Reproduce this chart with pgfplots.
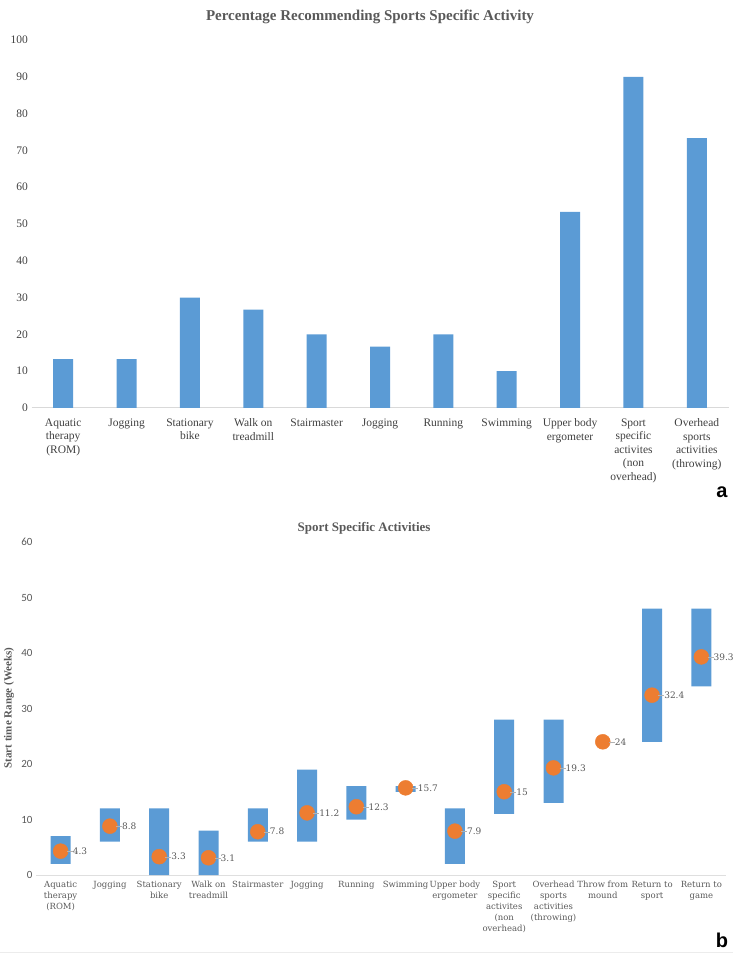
\documentclass[border=0pt]{standalone}
\usepackage{pgfplots}
\pgfplotsset{compat=1.18}
\usepackage{pgfplotstable}
\usepackage{fontspec}
\setmainfont{Liberation Serif}
\newfontfamily\wideserif{DejaVu Serif}
\newfontfamily\calib{Carlito}
\newfontfamily\arial{Liberation Sans}
\definecolor{barblue}{HTML}{5B9BD5}
\definecolor{dotorange}{HTML}{ED7D31}
\definecolor{txt}{HTML}{404040}
\definecolor{ttl}{HTML}{595959}

% panel a: percentage recommending each activity
\pgfplotstableread{
x pct
0 13.3
1 13.3
2 30
3 26.7
4 20
5 16.7
6 20
7 10
8 53.3
9 90
10 73.3
}\pctdata

% panel b: start time range (weeks), low / high / mean
\pgfplotstableread{
x low high mean
0 2 7 4.3
1 6 12 8.8
2 0 12 3.3
3 0 8 3.1
4 6 12 7.8
5 6 19 11.2
6 10 16 12.3
7 15 16 15.7
8 2 12 7.9
9 11 28 15
10 13 28 19.3
11 24 24 24
12 24 48 32.4
13 34 48 39.3
}\startdata

\begin{document}
\begin{tikzpicture}
\path[use as bounding box] (0pt,0pt) rectangle (735pt,956pt);

% ---------- panel a ----------
\node[font=\bfseries\fontsize{15}{18}\selectfont, text=ttl] at (370pt,939pt)
  {Percentage Recommending Sports Specific Activity};
\begin{axis}[
  at={(31.5pt,548pt)}, anchor=south west,
  scale only axis, width=697pt, height=368pt,
  xmin=-0.5, xmax=10.5, ymin=0, ymax=100,
  axis lines*=left,
  y axis line style={draw=none},
  x axis line style={gray!30, line width=1pt},
  tick style={draw=none},
  ytick={0,10,...,100},
  /pgf/number format/assume math mode=true,
  yticklabel style={font=\fontsize{11.5}{13}\selectfont, text=txt},
  xtick={0,...,10},
  xticklabels={{Aquatic\\therapy\\(ROM)}, Jogging, {Stationary\\bike},
    {Walk on\\treadmill}, Stairmaster, Jogging, Running, Swimming,
    {Upper body\\ergometer}, {Sport\\specific\\activites\\(non\\overhead)},
    {Overhead\\sports\\activities\\(throwing)}},
  xticklabel style={font=\fontsize{11.5}{13.5}\selectfont, text=txt, align=center, yshift=-3pt},
  ybar, bar width=20pt,
]
\addplot[fill=barblue, draw=none] table[x=x, y=pct] {\pctdata};
\end{axis}
\node[font=\arial\bfseries\fontsize{20}{22}\selectfont] at (722pt,464pt) {a};

% ---------- panel b ----------
\node[font=\bfseries\fontsize{13}{16}\selectfont, text=ttl] at (364pt,428pt)
  {Sport Specific Activities};
\node[rotate=90, font=\bfseries\fontsize{11}{13}\selectfont, text=ttl] at (9pt,248pt)
  {Start time Range (Weeks)};
\begin{axis}[
  at={(36pt,81pt)}, anchor=south west,
  scale only axis, width=690pt, height=333pt,
  xmin=-0.5, xmax=13.5, ymin=0, ymax=60,
  axis lines*=left,
  y axis line style={draw=none},
  x axis line style={gray!25, line width=1pt},
  tick style={draw=none},
  ytick={0,10,...,60},
  /pgf/number format/assume math mode=true,
  yticklabel style={font=\calib\fontsize{11}{13}\selectfont, text=ttl},
  xtick={0,...,13},
  xticklabels={{Aquatic\\therapy\\(ROM)}, Jogging, {Stationary\\bike},
    {Walk on\\treadmill}, Stairmaster, Jogging, Running, Swimming,
    {Upper body\\ergometer}, {Sport\\specific\\activites\\(non\\overhead)},
    {Overhead\\sports\\activities\\(throwing)}, {Throw from\\mound},
    {Return to\\sport}, {Return to\\game}},
  xticklabel style={font=\wideserif\fontsize{8.5}{11}\selectfont, text=ttl, align=center, yshift=-3pt},
  ybar stacked, bar width=20pt,
]
\addplot[draw=none, fill=none] table[x=x, y=low] {\startdata};
\addplot[fill=barblue, draw=none] table[x=x, y expr=\thisrow{high}-\thisrow{low}] {\startdata};
\end{axis}
% mean start time, drawn over the ranges
\begin{axis}[
  at={(36pt,81pt)}, anchor=south west,
  scale only axis, width=690pt, height=333pt,
  xmin=-0.5, xmax=13.5, ymin=0, ymax=60,
  hide axis, clip=false,
  /pgf/number format/assume math mode=true,
]
\addplot[only marks, mark=*, mark size=7.5pt, color=dotorange,
  nodes near coords={\textcolor{gray!60}{\rule[0.55ex]{6pt}{0.6pt}}\pgfmathprintnumber{\pgfplotspointmeta}},
  every node near coord/.append style={anchor=west, xshift=6pt, inner sep=0pt,
    font=\wideserif\fontsize{9}{11}\selectfont, text=ttl},
] table[x=x, y=mean] {\startdata};
\end{axis}
\node[font=\arial\bfseries\fontsize{20}{22}\selectfont] at (722pt,16pt) {b};
\draw[gray!15, line width=1pt] (0pt,3pt) -- (733pt,3pt);
\end{tikzpicture}
\end{document}
